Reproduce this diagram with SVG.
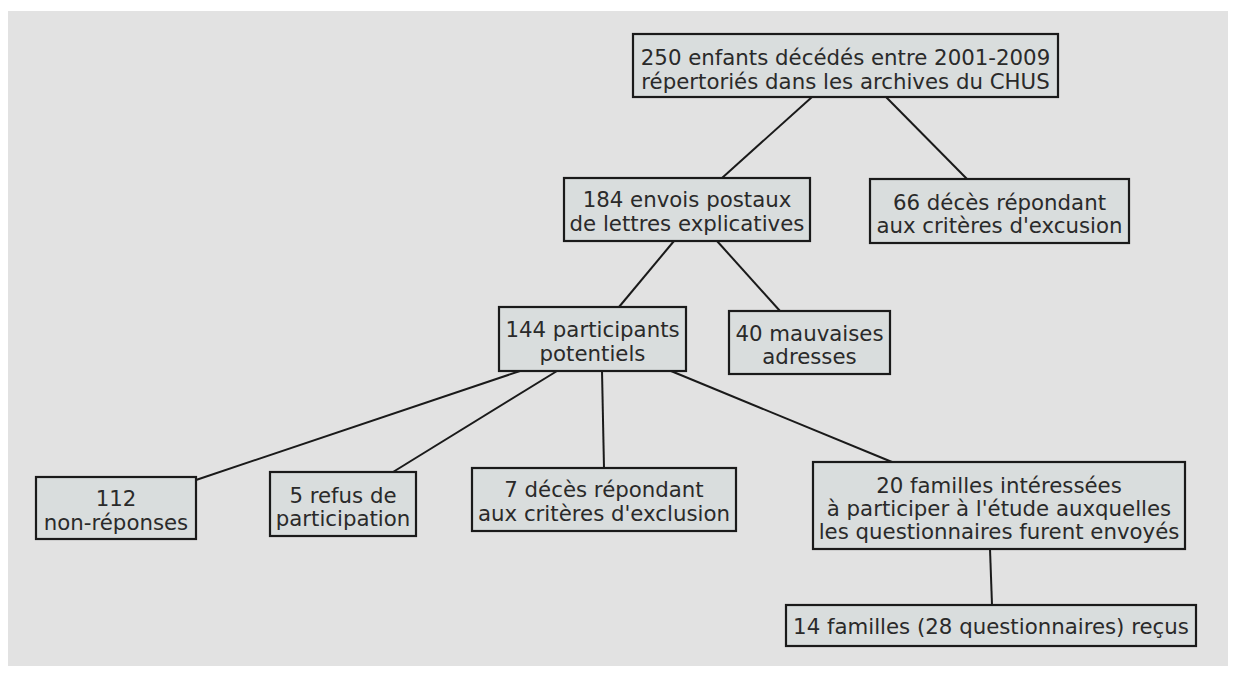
<svg xmlns="http://www.w3.org/2000/svg" width="1237" height="677" viewBox="0 0 1237 677">
<style>
.bg{fill:#e2e2e2}
.box{fill:#d9dddd;stroke:#1a1a1a;stroke-width:2.2}
.t{font-family:"DejaVu Sans",Verdana,sans-serif;font-size:21.3px;fill:#2a2a2a;text-anchor:middle}
.c{stroke:#1a1a1a;stroke-width:2;fill:none}
</style>
<rect x="0" y="0" width="1237" height="677" fill="#ffffff"/>
<rect class="bg" x="8" y="11" width="1220" height="655"/>
<g id="connectors">
<line class="c" x1="812" y1="97" x2="722" y2="178"/>
<line class="c" x1="886" y1="97" x2="967" y2="179"/>
<line class="c" x1="674" y1="241" x2="619" y2="307"/>
<line class="c" x1="717" y1="241" x2="780" y2="311"/>
<line class="c" x1="520" y1="371" x2="196" y2="480"/>
<line class="c" x1="557" y1="371" x2="393" y2="472"/>
<line class="c" x1="602" y1="371" x2="604" y2="468"/>
<line class="c" x1="671" y1="371" x2="892" y2="462"/>
<line class="c" x1="990" y1="549" x2="992" y2="605"/>
</g>
<g id="n1"><rect class="box" x="633" y="34" width="425" height="63"/><text class="t" x="845.5" y="65">250 enfants décédés entre 2001-2009</text><text class="t" x="845.5" y="89">répertoriés dans les archives du CHUS</text></g>
<g id="n2"><rect class="box" x="564" y="178" width="246" height="63"/><text class="t" x="687" y="207">184 envois postaux</text><text class="t" x="687" y="231">de lettres explicatives</text></g>
<g id="n3"><rect class="box" x="870" y="179" width="259" height="64"/><text class="t" x="999.5" y="210">66 décès répondant</text><text class="t" x="999.5" y="233">aux critères d'excusion</text></g>
<g id="n4"><rect class="box" x="499" y="307" width="187" height="64"/><text class="t" x="592.5" y="337">144 participants</text><text class="t" x="592.5" y="361">potentiels</text></g>
<g id="n5"><rect class="box" x="729" y="311" width="161" height="63"/><text class="t" x="809.5" y="341">40 mauvaises</text><text class="t" x="809.5" y="364">adresses</text></g>
<g id="n6"><rect class="box" x="36" y="477" width="160" height="62"/><text class="t" x="116" y="506">112</text><text class="t" x="116" y="529.5">non-réponses</text></g>
<g id="n7"><rect class="box" x="270" y="472" width="146" height="64"/><text class="t" x="343" y="503">5 refus de</text><text class="t" x="343" y="526">participation</text></g>
<g id="n8"><rect class="box" x="472" y="468" width="264" height="63"/><text class="t" x="604" y="497">7 décès répondant</text><text class="t" x="604" y="521">aux critères d'exclusion</text></g>
<g id="n9"><rect class="box" x="813" y="462" width="372" height="87"/><text class="t" x="999" y="493">20 familles intéressées</text><text class="t" x="999" y="516">à participer à l'étude auxquelles</text><text class="t" x="999" y="539">les questionnaires furent envoyés</text></g>
<g id="n10"><rect class="box" x="786" y="605" width="410" height="41"/><text class="t" x="991" y="634">14 familles (28 questionnaires) reçus</text></g>
</svg>
